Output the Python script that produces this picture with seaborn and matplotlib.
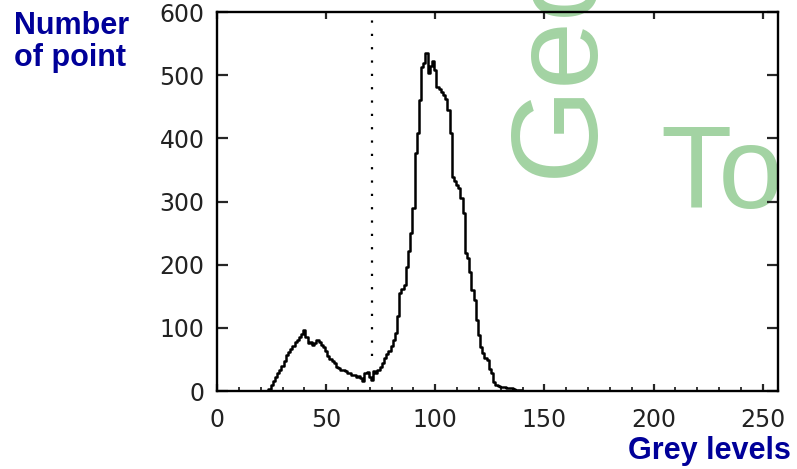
import numpy as np
import pandas as pd
import matplotlib
matplotlib.use("Agg")
import matplotlib.pyplot as plt
import seaborn as sns

# =========================
# DATA

# counts for grey levels 24..139, everything else is zero
first_level = 24
counts = [3, 10, 16, 22, 28, 33, 40, 48, 57, 62,
          66, 72, 78, 80, 86, 90, 96, 86, 76, 78,
          73, 76, 81, 77, 73, 70, 64, 56, 50, 48,
          44, 38, 37, 34, 33, 31, 28, 29, 26, 25,
          22, 23, 20, 16, 28, 30, 22, 18, 31, 29,
          33, 38, 44, 53, 58, 64, 72, 80, 92, 118,
          155, 162, 168, 196, 222, 250, 290, 376, 408, 460,
          513, 520, 535, 503, 515, 522, 508, 482, 478, 473,
          468, 463, 445, 408, 339, 332, 326, 321, 305, 282,
          218, 210, 188, 160, 144, 112, 89, 70, 60, 52,
          49, 35, 28, 14, 10, 8, 7, 6, 6, 5,
          5, 4, 3, 2, 1, 1]
threshold = 71
x_ticks = [0, 50, 100, 150, 200, 250]
y_ticks = [0, 100, 200, 300, 400, 500, 600]

hist = np.zeros(256)
hist[first_level:first_level + len(counts)] = counts
df = pd.DataFrame({"grey": np.arange(256), "count": hist})

# =========================
# PLOT

sns.set_style("ticks")
plt.rcParams['font.family'] = ['DejaVu Sans']

fig = plt.figure(figsize=(7.97, 4.69), dpi=100)
ax = fig.add_axes([0.2723, 0.1663, 0.7039, 0.8081])
ax.patch.set_facecolor("none")

# watermark behind the axes
green = "#a3d3a3"
fig.text(0.702, 0.622, "Geo", rotation=90, ha="center", va="bottom",
         fontsize=88, color=green, family="Liberation Sans", zorder=-5)
fig.text(0.828, 0.556, "To", ha="left", va="baseline",
         fontsize=84, color=green, family="Liberation Sans", zorder=-5)

sns.lineplot(data=df, x="grey", y="count", ax=ax, color="black",
             linewidth=1.8, drawstyle="steps-mid", estimator=None)
ax.vlines(threshold, 55, 600, colors="black", linewidth=1.6,
          linestyles=(0, (1, 5)))

ax.set_xlim(0, 257)
ax.set_ylim(0, 600)
ax.set_xticks(x_ticks)
ax.set_xticks(np.arange(0, 257, 10), minor=True)
ax.set_yticks(y_ticks)
ax.set_xlabel("")
ax.set_ylabel("")

for s in ax.spines.values():
    s.set_visible(True)
    s.set_linewidth(1.7)
    s.set_color("black")

ax.tick_params(axis="both", which="major", direction="in", top=True,
               right=True, width=1.6, labelsize=17, labelcolor="#222222")
ax.tick_params(axis="x", which="major", length=5, pad=12)
ax.tick_params(axis="y", which="major", length=8, pad=9)
ax.tick_params(axis="x", which="minor", direction="in", length=3,
               width=1.3, top=False)

blue = "#000099"
fig.text(0.017, 0.977, "Number\nof point", ha="left", va="top",
         fontsize=22, fontweight="bold", color=blue,
         family="Liberation Sans", linespacing=1.1)
fig.text(0.992, 0.022, "Grey levels", ha="right", va="baseline",
         fontsize=22, fontweight="bold", color=blue,
         family="Liberation Sans")

fig.savefig("out.png", dpi=100)
